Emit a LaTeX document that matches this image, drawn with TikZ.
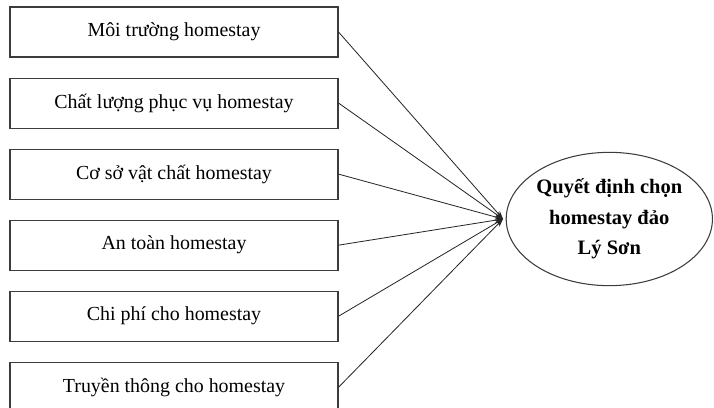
\documentclass[tikz,border=0pt]{standalone}
\usepackage{fontspec}
\setmainfont{Liberation Serif}
\usepackage{tikz}
\usetikzlibrary{arrows.meta,positioning,shapes.geometric}
\definecolor{lineGray}{RGB}{60,60,60}

\begin{document}
\begin{tikzpicture}[
  node distance=0.6cm,
  factor/.style={draw=lineGray, line width=0.9pt, minimum width=9.84cm, minimum height=1.5cm, align=center, font=\fontsize{17}{20}\selectfont},
  target/.style={ellipse, draw=lineGray, line width=0.9pt, minimum width=6.12cm, minimum height=4.0cm, align=center, inner sep=0pt, font=\fontsize{17.5}{26}\selectfont\bfseries},
  link/.style={-{Stealth[length=7pt,width=5pt]}, draw=black!85, line width=0.7pt}
]
  \useasboundingbox (0,0) rectangle (21.42,-12.21);

  \node[factor] (moitruong) at (5.22,-0.96) {Môi trường homestay};
  \node[factor, below=of moitruong] (chatluong) {Chất lượng phục vụ homestay};
  \node[factor, below=of chatluong] (cosovatchat) {Cơ sở vật chất homestay};
  \node[factor, below=of cosovatchat] (antoan) {An toàn homestay};
  \node[factor, below=of antoan] (chiphi) {Chi phí cho homestay};
  \node[factor, below=of chiphi] (truyenthong) {Truyền thông cho homestay};

  \coordinate (hub) at (15.09,-6.57);
  \node[target, right=0.08cm of hub] (quyetdinh) {Quyết định chọn\\homestay đảo\\Lý Sơn};

  \foreach \src in {moitruong,chatluong,cosovatchat,antoan,chiphi,truyenthong}
    \draw[link] (\src.east) -- (hub);
\end{tikzpicture}
\end{document}
